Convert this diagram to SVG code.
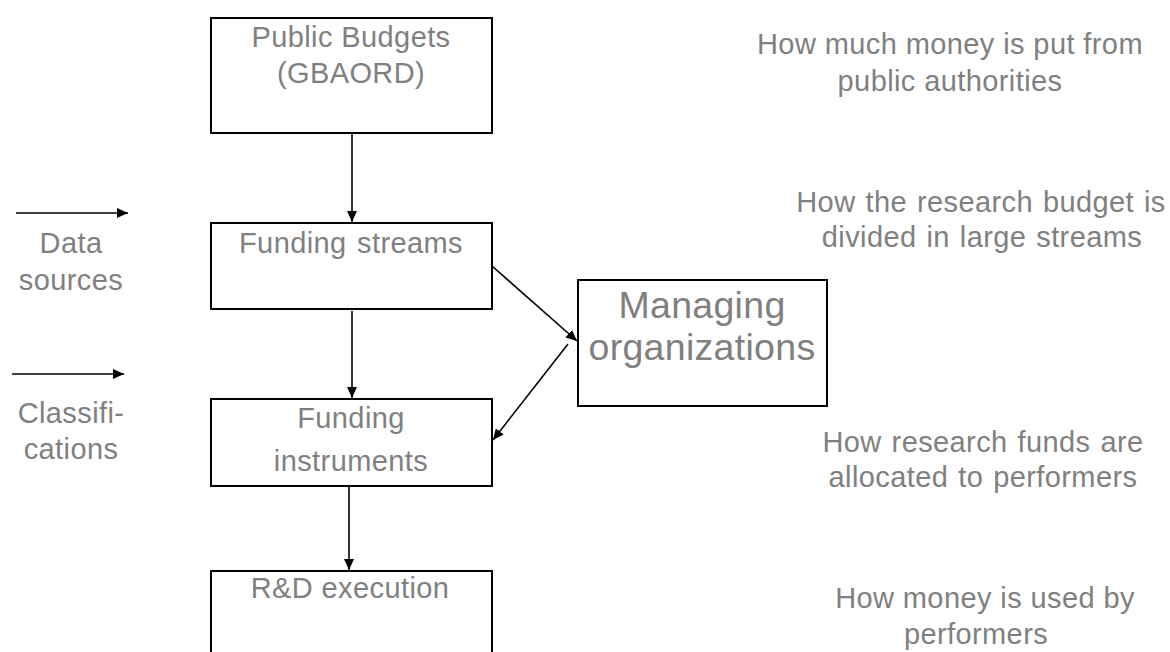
<svg xmlns="http://www.w3.org/2000/svg" width="1170" height="652" viewBox="0 0 1170 652">
<defs>
<marker id="ah" markerUnits="userSpaceOnUse" markerWidth="12" markerHeight="10" refX="11" refY="5" orient="auto">
<path d="M0,0 L11,5 L0,10 Z" fill="#000"/>
</marker>
<style>
.box{fill:#fff;stroke:#000;stroke-width:2}
.t{font-family:"Liberation Sans",Arial,sans-serif;font-size:29px;letter-spacing:0.4px;fill:#808080;text-anchor:middle}
.big{font-size:37.5px;letter-spacing:0.3px}
.c{stroke:#000;stroke-width:1.6;fill:none;marker-end:url(#ah)}
</style>
</defs>
<rect width="1170" height="652" fill="#fff"/>
<g id="connectors">
<line class="c" x1="352" y1="133" x2="352" y2="222"/>
<line class="c" x1="352" y1="311" x2="352" y2="398"/>
<line class="c" x1="349" y1="486" x2="349" y2="570"/>
<line class="c" x1="492" y1="266" x2="577" y2="341"/>
<line class="c" x1="568" y1="344" x2="493" y2="440"/>
<line class="c" x1="16" y1="213" x2="128" y2="213"/>
<line class="c" x1="12" y1="374" x2="124" y2="374"/>
</g>
<g id="public-budgets">
<rect class="box" x="211" y="18" width="281" height="115"/>
<text class="t" x="351" y="47">Public Budgets</text>
<text class="t" x="351" y="83">(GBAORD)</text>
</g>
<g id="funding-streams">
<rect class="box" x="211" y="223" width="281" height="86"/>
<text class="t" x="351" y="253" word-spacing="2">Funding streams</text>
</g>
<g id="funding-instruments">
<rect class="box" x="211" y="399" width="281" height="87"/>
<text class="t" x="351" y="428">Funding</text>
<text class="t" x="351" y="471">instruments</text>
</g>
<g id="rd-execution">
<rect class="box" x="211" y="571" width="281" height="95"/>
<text class="t" x="350" y="598">R&amp;D execution</text>
</g>
<g id="managing-organizations">
<rect class="box" x="578" y="280" width="249" height="126"/>
<text class="t big" x="702" y="318">Managing</text>
<text class="t big" x="702" y="360">organizations</text>
</g>
<g id="labels-left">
<text class="t" x="71" y="253">Data</text>
<text class="t" x="71" y="290">sources</text>
<text class="t" x="71" y="423">Classifi-</text>
<text class="t" x="71" y="459">cations</text>
</g>
<g id="labels-right">
<text class="t" x="950" y="54">How much money is put from</text>
<text class="t" x="950" y="91">public authorities</text>
<text class="t" x="981" y="212" word-spacing="1.5">How the research budget is</text>
<text class="t" x="982" y="247" word-spacing="1.5">divided in large streams</text>
<text class="t" x="983" y="452" word-spacing="1.5">How research funds are</text>
<text class="t" x="983" y="487" word-spacing="1.5">allocated to performers</text>
<text class="t" x="985" y="608">How money is used by</text>
<text class="t" x="976" y="644">performers</text>
</g>
</svg>
